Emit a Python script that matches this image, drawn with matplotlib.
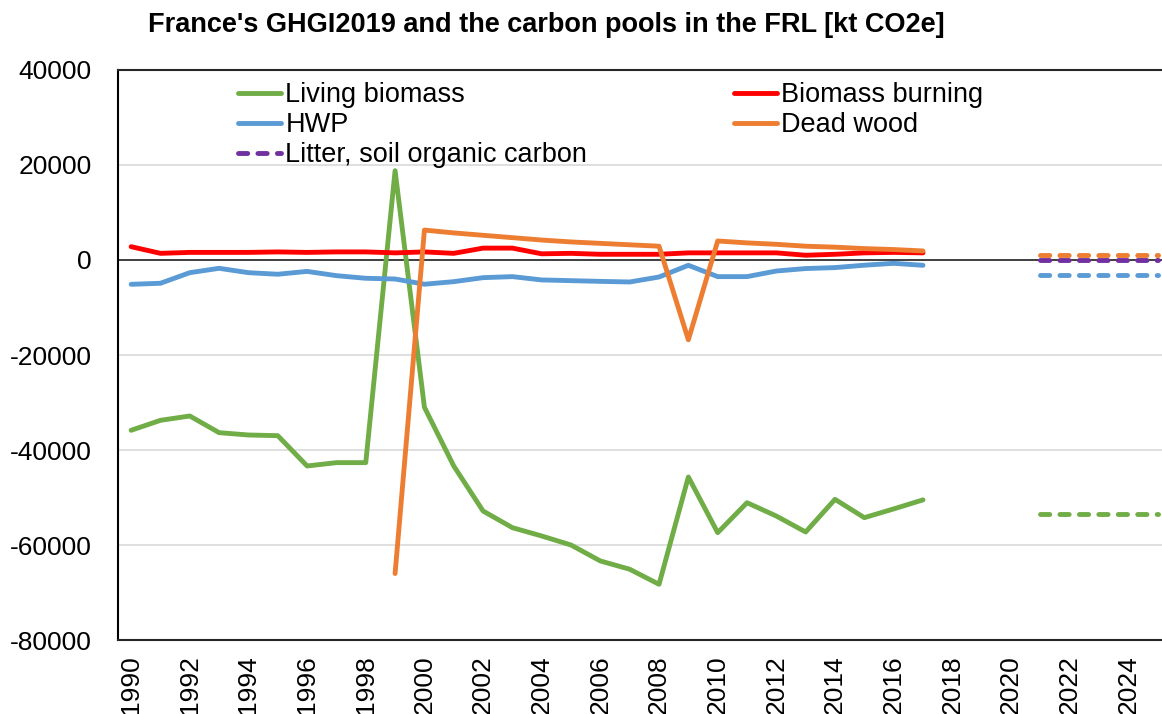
import matplotlib
matplotlib.use('Agg')
from matplotlib import pyplot as plt
import numpy as np

# Inventory years and projection years
years = list(range(1990, 2018))
frl_years = list(range(2021, 2026))

living_biomass = [-35850, -33750, -32840, -36350, -36840, -36980, -43360, -42660, -42660,
                  18800, -31000, -43360, -52840, -56350, -58100, -60000, -63360, -65100,
                  -68270, -45680, -57400, -51090, -53900, -57260, -50380, -54240, -52400, -50500]
biomass_burning = [2800, 1400, 1600, 1600, 1600, 1700, 1600, 1700, 1700, 1500, 1700, 1400,
                   2500, 2500, 1300, 1400, 1200, 1200, 1200, 1500, 1500, 1500, 1500, 1000,
                   1200, 1500, 1600, 1500]
hwp = [-5120, -4900, -2670, -1750, -2670, -3000, -2400, -3300, -3850, -4000, -5100, -4560,
       -3720, -3500, -4200, -4350, -4500, -4630, -3580, -1120, -3500, -3500, -2320, -1800,
       -1600, -1100, -700, -1120]
# dead wood only reported from 1999 on
dead_wood_years = list(range(1999, 2018))
dead_wood = [-66000, 6300, 5700, 5200, 4700, 4200, 3800, 3500, 3200, 2900, -16800, 4000,
             3600, 3300, 2900, 2700, 2400, 2200, 1900]

# FRL projections (dashed)
frl_living = -53500
frl_hwp = -3150
frl_dead = 1100
frl_litter = 100

green = '#70AD47'
red = '#FF0000'
blue = '#5B9BD5'
orange = '#ED7D31'
purple = '#7030A0'

plt.rcParams['font.family'] = ['Liberation Sans', 'DejaVu Sans']
plt.rcParams['axes.unicode_minus'] = False

fig = plt.figure(figsize=(11.62, 7.14), dpi=100)
ax = fig.add_axes([0.1015, 0.1036, 0.8985, 0.7984])

lw = 3.5
dashes = (0, (1.9, 2.1))
solid = dict(lw=lw, solid_capstyle='round', zorder=3)
ax.plot(years, living_biomass, '-', color=green, label='Living biomass', **solid)
ax.plot(years, hwp, '-', color=blue, label='HWP', **solid)
ax.plot([], [], color=purple, lw=lw, ls=dashes, dash_capstyle='round',
        label='Litter, soil organic carbon')
ax.plot(years, biomass_burning, '-', color=red, label='Biomass burning', **solid)
ax.plot(dead_wood_years, dead_wood, '-', color=orange, label='Dead wood', **solid)

dash = dict(lw=lw, ls=dashes, dash_capstyle='round', zorder=3)
n = len(frl_years)
ax.plot(frl_years, [frl_living] * n, color=green, **dash)
ax.plot(frl_years, [frl_hwp] * n, color=blue, **dash)
ax.plot(frl_years, [frl_dead] * n, color=orange, **dash)
ax.plot(frl_years, [frl_litter] * n, color=purple, **dash)

ax.axhline(0, color='#262626', lw=1.2, zorder=2)

ax.set_xlim(1989.55, 2025.15)
ax.set_ylim(-80000, 40000)
ax.set_yticks(np.arange(-80000, 40001, 20000))
ax.set_xticks(range(1990, 2025, 2))
ax.tick_params(axis='x', labelrotation=90, labelsize=19, length=0, pad=11)
ax.tick_params(axis='y', labelsize=19, length=0, pad=19)
ax.grid(axis='y', color='#D9D9D9', lw=1.2, zorder=0)
ax.set_axisbelow(True)

ax.spines['right'].set_visible(False)
ax.spines['top'].set_color('#262626')
ax.spines['top'].set_linewidth(1.5)
ax.spines['left'].set_color('black')
ax.spines['left'].set_linewidth(1.5)
ax.spines['bottom'].set_color('#262626')
ax.spines['bottom'].set_linewidth(1.5)

# legend: two columns, handles touching the labels
leg = ax.legend(loc='upper left', bbox_to_anchor=(238 / 1162, 1 - 82 / 714),
                bbox_transform=fig.transFigure, ncol=2, frameon=False, borderpad=0,
                fontsize=19.5, handlelength=1.6, handletextpad=0.15, columnspacing=5.4,
                labelspacing=0.15, borderaxespad=0)

fig.text(0.470, 1 - 25 / 714, "France's GHGI2019 and the carbon pools in the FRL [kt CO2e]",
         ha='center', va='center', fontsize=19.5, fontweight='bold')

fig.savefig('out.png', dpi=100)
